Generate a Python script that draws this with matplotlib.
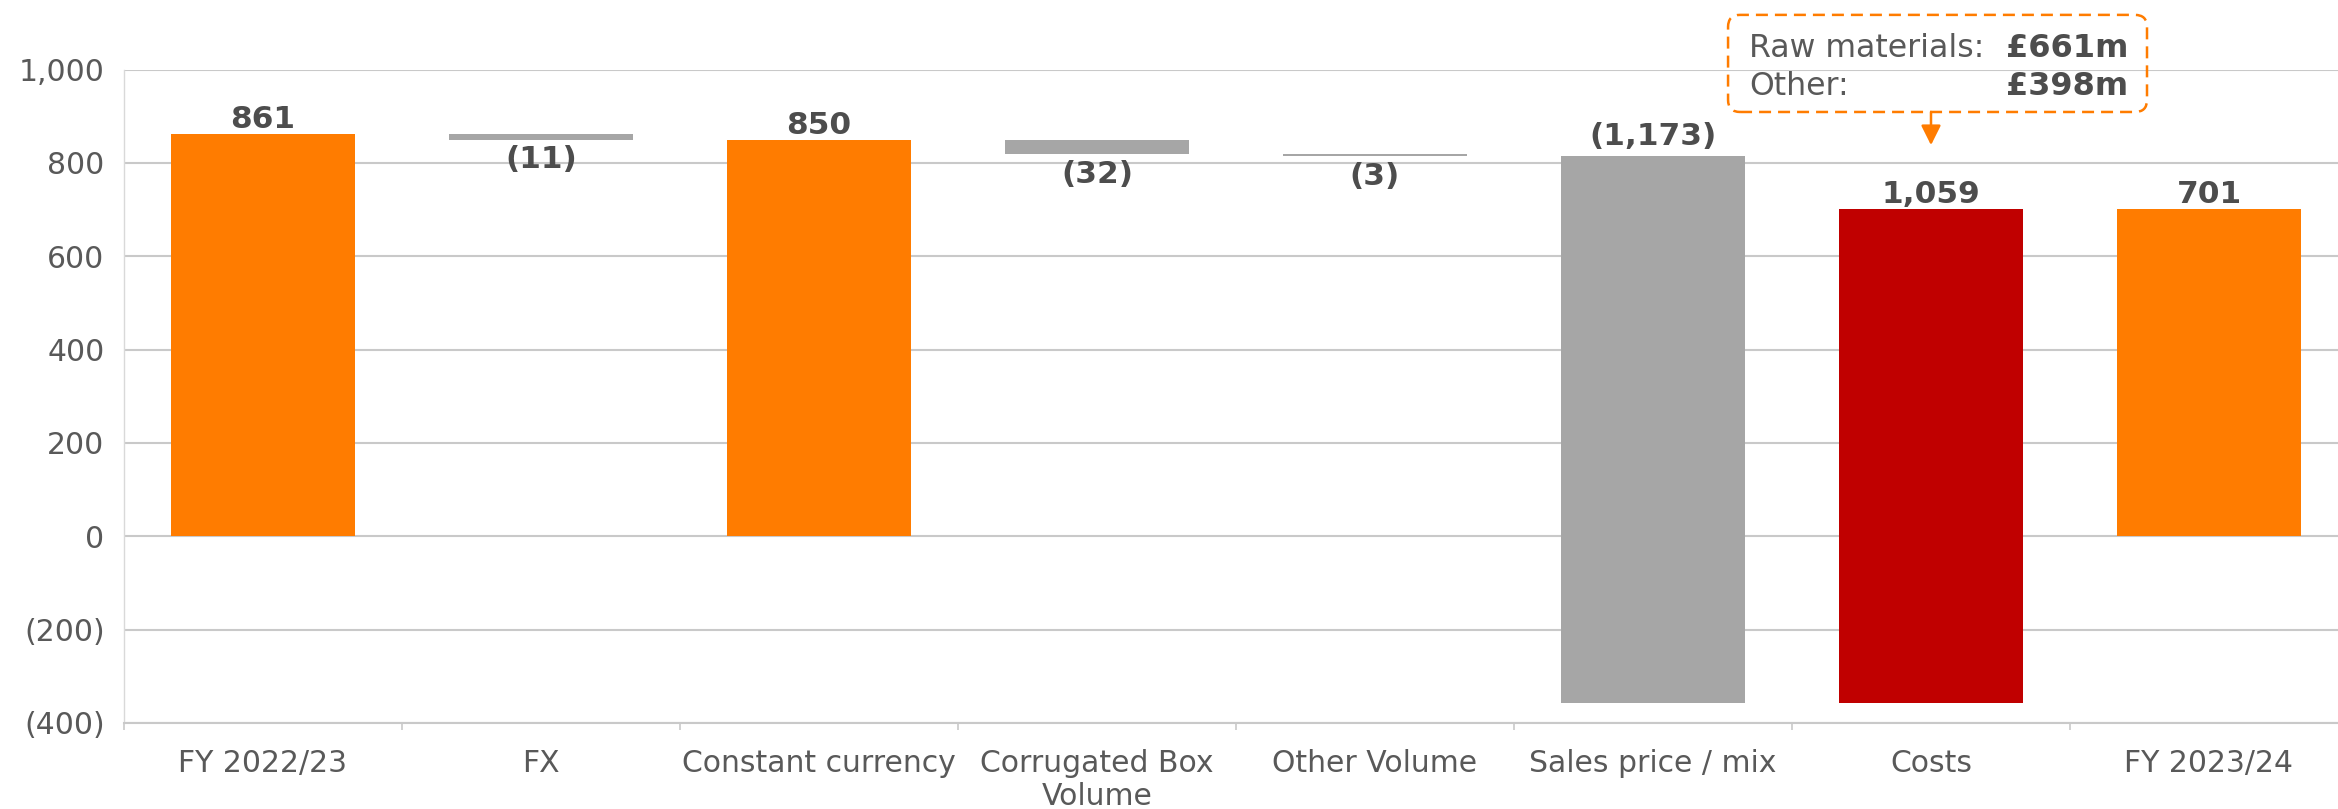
import matplotlib
matplotlib.use('Agg')
import matplotlib.pyplot as plt
from matplotlib.patches import FancyBboxPatch
from matplotlib.transforms import IdentityTransform
import numpy as np

# ---------------- data ----------------
categories = ['FY 2022/23', 'FX', 'Constant currency', 'Corrugated Box\nVolume',
              'Other Volume', 'Sales price / mix', 'Costs', 'FY 2023/24']
amounts = [861, -11, 850, -32, -3, -1173, 1059, 701]
kinds = ['total', 'delta', 'total', 'delta', 'delta', 'delta', 'delta', 'total']
label_side = ['above', 'below', 'above', 'below', 'below', 'above', 'above', 'above']
y_ticks = [-400, -200, 0, 200, 400, 600, 800, 1000]
callout_labels = ['Raw materials:', 'Other:']
callout_values = ['£661m', '£398m']
callout_target = 6  # index of "Costs"

ORANGE = '#FF7C00'
GREY = '#A6A6A6'
RED = '#C00000'
TXT = '#595959'
BOLD_TXT = '#4d4d4d'
GRID = '#c9c9c9'

# ------------- waterfall geometry -------------
bottoms, heights, colors = [], [], []
running = 0
for a, k in zip(amounts, kinds):
    if k == 'total':
        bottoms.append(0)
        heights.append(a)
        colors.append(ORANGE)
        running = a
    else:
        if a < 0:
            bottoms.append(running + a)
            heights.append(-a)
            colors.append(GREY)
        else:
            bottoms.append(running)
            heights.append(a)
            colors.append(RED)
        running += a


def fmt(v):
    return f'{v:,}' if v >= 0 else f'({-v:,})'


W, H = 2338, 809
fig = plt.figure(figsize=(W / 100, H / 100), dpi=100)
ax = fig.add_axes([124 / W, 86 / H, 2224 / W, 653.5 / H])

x = np.arange(len(categories))
ax.bar(x, heights, bottom=bottoms, width=0.665, color=colors, linewidth=0, zorder=3)
ax.set_xlim(-0.5, len(categories) - 0.5)
ax.set_ylim(-400, 1000)

# grid & spines
ax.set_axisbelow(True)
ax.yaxis.grid(True, color=GRID, lw=1.5)
for s in ['top', 'right']:
    ax.spines[s].set_visible(False)
ax.spines['left'].set_color('#d9d9d9')
ax.spines['left'].set_linewidth(1.0)
ax.spines['bottom'].set_color(GRID)
ax.spines['bottom'].set_linewidth(1.5)

# y ticks
ax.set_yticks(y_ticks)
ax.set_yticklabels([fmt(v) for v in y_ticks])
ax.tick_params(axis='y', length=0, pad=14, labelsize=21.5, labelcolor=TXT)

# x ticks: marks at boundaries, labels at centers
ax.set_xticks(np.arange(len(categories) + 1) - 0.5)
ax.set_xticklabels([])
ax.tick_params(axis='x', which='major', length=5, width=1.2, color=GRID, direction='out')
ax.set_xticks(x, minor=True)
ax.set_xticklabels(categories, minor=True)
ax.tick_params(axis='x', which='minor', length=0, pad=18.5, labelsize=21.5, labelcolor=TXT)

# data labels
for i, (a, b, h, side) in enumerate(zip(amounts, bottoms, heights, label_side)):
    txt = fmt(a)
    if side == 'above':
        off = 4.3 + (3.3 if txt.startswith('(') else 0)
        ax.annotate(txt, (i, b + h), xytext=(0, off), textcoords='offset points',
                    ha='center', va='baseline', fontsize=22.5, fontweight='bold',
                    color=BOLD_TXT, annotation_clip=False, zorder=5)
    else:
        ax.annotate(txt, (i, b), xytext=(0, -4.3), textcoords='offset points',
                    ha='center', va='top', fontsize=22.5, fontweight='bold',
                    color=BOLD_TXT, annotation_clip=False, zorder=5)

# ------------- callout -------------
cx = callout_target
box_x0, box_x1 = cx - 0.73, cx + 0.777
box_y0, box_y1 = 909, 1117
p0 = ax.transData.transform((box_x0, box_y0))
p1 = ax.transData.transform((box_x1, box_y1))
box = FancyBboxPatch((p0[0], p0[1]), p1[0] - p0[0], p1[1] - p0[1],
                     boxstyle='round,pad=0,rounding_size=12',
                     transform=IdentityTransform(), fill=False,
                     edgecolor=ORANGE, lw=1.8, linestyle=(0, (4.8, 2.8)))
fig.add_artist(box)

ax.annotate('', xy=(cx, 838), xytext=(cx, box_y0),
            arrowprops=dict(arrowstyle='-|>,head_length=0.4,head_width=0.2',
                            color=ORANGE, lw=1.8, mutation_scale=30,
                            shrinkA=0, shrinkB=0),
            annotation_clip=False)

line_y = [1026.8, 945.4]
for lab, val, yy in zip(callout_labels, callout_values, line_y):
    ax.text(cx - 0.655, yy, lab, ha='left', va='baseline', fontsize=22.7,
            color=TXT, clip_on=False)
    ax.text(cx + 0.709, yy, val, ha='right', va='baseline', fontsize=23,
            fontweight='bold', color=BOLD_TXT, clip_on=False)

fig.savefig('out.png', dpi=100, facecolor='white')
